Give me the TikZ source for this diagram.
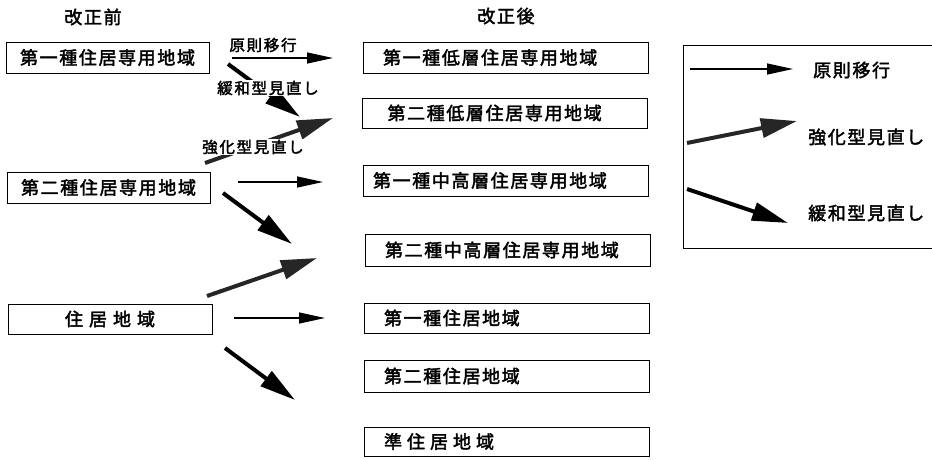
\documentclass[tikz,border=0pt]{standalone}
\usepackage{fontspec}
\usetikzlibrary{arrows.meta}
\newfontfamily\jpbig[FakeBold=2.2,LetterSpace=9]{Noto Sans CJK JP}
\newfontfamily\jpsmall[FakeBold=2.2,LetterSpace=11]{Noto Sans CJK JP}
\tikzset{
  lbox/.style={draw, line width=0.9pt, minimum width=203pt, minimum height=31pt, inner sep=0pt,
    font=\jpbig\fontsize{18}{20}\selectfont, align=center},
  rbox/.style={draw, line width=0.9pt, text width=245pt, inner xsep=20pt, inner ysep=0pt,
    minimum height=31pt, align=left, font=\jpbig\fontsize{18}{20}\selectfont},
  head/.style={font=\jpbig\fontsize{18}{20}\selectfont, inner sep=0pt},
  lab/.style={font=\jpsmall\fontsize{15.5}{17}\selectfont, inner sep=1pt},
  wlab/.style={lab, fill=white},
  gen/.style={line width=1.3pt, -{Triangle[length=26pt,width=11pt]}},
  kanwa/.style={line width=4pt, -{Triangle[length=36pt,width=18pt]}},
  kyouka/.style={line width=4pt, black!85, -{Triangle[length=36pt,width=19pt]}},
}
\begin{document}
\begin{tikzpicture}[x=1pt,y=-1pt]
\useasboundingbox (0,0) rectangle (932,459);

% headings
\node[head] (hb) at (93,17) {改正前};
\node[head] (ha) at (506,16) {改正後};

% left boxes
\node[lbox] (l1) at (107.5,57.5) {第一種住居専用地域};
\node[lbox] (l2) at (108.5,187.5) {第二種住居専用地域};
\node[lbox, minimum width=204pt, minimum height=30pt] (l3) at (110,319) {住\hspace{6pt}居\hspace{6pt}地\hspace{6pt}域};

% right boxes
\node[rbox] (r1) at (505.5,57.5) {第一種低層住居専用地域};
\node[rbox, minimum height=30pt] (r2) at (505,113) {\hspace*{5pt}第二種低層住居専用地域};
\node[rbox] (r3) at (505.5,180.5) {\hspace*{-10pt}第一種中高層住居専用地域};
\node[rbox, minimum height=32pt] (r4) at (507.5,250) {第二種中高層住居専用地域};
\node[rbox, minimum height=30pt] (r5) at (506.5,318) {第一種住居地域};
\node[rbox, minimum height=32pt] (r6) at (506.5,376) {第二種住居地域};
\node[rbox, minimum height=29pt] (r7) at (506.5,441.5) {準\hspace{5pt}住\hspace{5pt}居\hspace{5pt}地\hspace{5pt}域};

% arrow end points
\coordinate (a1s) at (232,58);  \coordinate (a1e) at (333,58);
\coordinate (a2s) at (228,64);  \coordinate (a2e) at (300,117);
\coordinate (a3s) at (205,163); \coordinate (a3e) at (333,118);
\coordinate (a4s) at (238,182); \coordinate (a4e) at (323,182);
\coordinate (a5s) at (223,193); \coordinate (a5e) at (292,244);
\coordinate (a6s) at (207,296); \coordinate (a6e) at (317,258);
\coordinate (a7s) at (234,318); \coordinate (a7e) at (325,318);
\coordinate (a8s) at (225,348); \coordinate (a8e) at (295,400);

\draw[gen] (a1s) -- (a1e);
\draw[kanwa] (a2s) -- (a2e);
\draw[kyouka] (a3s) -- (a3e);
\draw[gen] (a4s) -- (a4e);
\draw[kanwa] (a5s) -- (a5e);
\draw[kyouka] (a6s) -- (a6e);
\draw[gen] (a7s) -- (a7e);
\draw[kanwa] (a8s) -- (a8e);

% labels on the arrows
\node[lab] (t1) at (263,45) {原則移行};
\node[wlab] (t2) at (268,88) {緩和型見直し};
\node[wlab] (t3) at (253,147) {強化型見直し};

% legend
\coordinate (g1) at (932,45);
\coordinate (g2) at (683,45);
\coordinate (g3) at (683,248);
\coordinate (g4) at (932,248);
\draw[line width=0.9pt] (g1) -- (g2) -- (g3) -- (g4);

\coordinate (k1s) at (690,69);  \coordinate (k1e) at (793,69);
\coordinate (k2s) at (687,143); \coordinate (k2e) at (797,121);
\coordinate (k3s) at (687,189); \coordinate (k3e) at (788,223);
\draw[gen] (k1s) -- (k1e);
\draw[kyouka] (k2s) -- (k2e);
\draw[kanwa] (k3s) -- (k3e);
\node[head, anchor=west] (k1t) at (813,70) {原則移行};
\node[head, anchor=west] (k2t) at (808,137) {強化型見直し};
\node[head, anchor=west] (k3t) at (808,213) {緩和型見直し};
\end{tikzpicture}
\end{document}
